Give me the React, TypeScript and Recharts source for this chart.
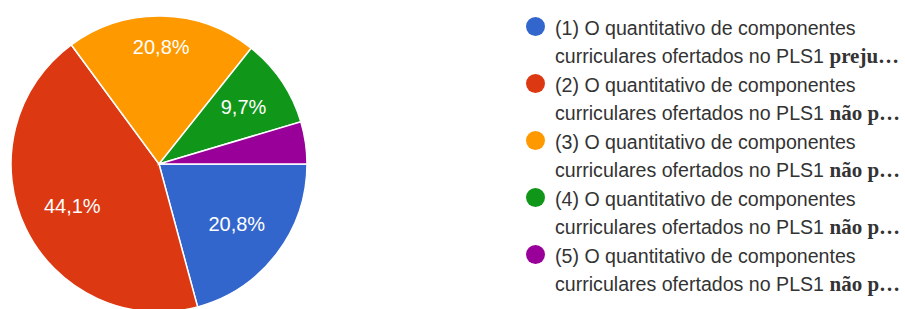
import { PieChart, Pie, Cell, Legend } from 'recharts';

const numbers = ['(1)', '(2)', '(3)', '(4)', '(5)'];
const values = [20.8, 44.1, 20.8, 9.7, 4.6];
const boldEnds = ['preju…', 'não p…', 'não p…', 'não p…', 'não p…'];
const COLORS = ['#3366cc', '#dc3912', '#ff9900', '#109618', '#990099'];

const firstLine = 'O quantitativo de componentes';
const secondLine = 'curriculares ofertados no PLS1 ';

const data = numbers.map((n, i) => ({
  name: `${n} ${firstLine}`,
  value: values[i],
  bold: boldEnds[i],
}));

const RAD = Math.PI / 180;
const SANS = '"Liberation Sans", Arial, sans-serif';
const LABEL_SIZE = 20;

// rough Arial advance widths, used to keep the label box inside the slice
const charW = (c: string) => (c === ',' ? 0.278 : c === '%' ? 0.889 : 0.556);

const renderLabel = (props: any) => {
  const { cx, cy, midAngle, outerRadius, value } = props;
  if (value < 5) return null;
  const text = `${value.toFixed(1).replace('.', ',')}%`;
  const halfW = (text.split('').reduce((s, c) => s + charW(c), 0) * LABEL_SIZE) / 2;
  const halfH = LABEL_SIZE * 0.375;
  const cos = Math.cos(-midAngle * RAD);
  const sin = Math.sin(-midAngle * RAD);
  const r = outerRadius * 0.845 - (halfW * Math.abs(cos) + halfH * Math.abs(sin));
  return (
    <text
      x={cx + r * cos}
      y={cy + r * sin}
      fill="#fff"
      textAnchor="middle"
      dominantBaseline="central"
      fontSize={LABEL_SIZE}
      fontFamily={SANS}
    >
      {text}
    </text>
  );
};

const renderLegend = () => (
  <div style={{ fontFamily: SANS, fontSize: 19.6, color: '#333' }}>
    {data.map((d, i) => (
      <div key={`leg-${i}`} style={{ display: 'flex', height: 57 }}>
        <div
          style={{
            width: 19,
            height: 19,
            borderRadius: '50%',
            background: COLORS[i],
            marginTop: 3,
            marginRight: 10,
            flex: 'none',
          }}
        />
        <div style={{ lineHeight: '28px', whiteSpace: 'nowrap' }}>
          <div>{d.name}</div>
          <div>
            {secondLine}
            <span style={{ fontFamily: '"Liberation Serif", serif', fontWeight: 'bold', fontSize: 21 }}>{d.bold}</span>
          </div>
        </div>
      </div>
    ))}
  </div>
);

export default function App() {
  return (
    <div style={{ position: 'absolute', left: 0, top: 0, width: 905, height: 309, background: '#fff' }}>
      <PieChart width={905} height={309} margin={{ top: 0, right: 0, bottom: 0, left: 0 }}>
        <Pie
          data={data}
          dataKey="value"
          nameKey="name"
          cx={159}
          cy={164}
          outerRadius={148}
          startAngle={0}
          endAngle={-360}
          stroke="#fff"
          strokeWidth={1.5}
          label={renderLabel}
          labelLine={false}
          isAnimationActive={false}
        >
          {data.map((entry, index) => (
            <Cell key={`slice-${index}`} fill={COLORS[index % COLORS.length]} />
          ))}
        </Pie>
        <Legend
          content={renderLegend}
          wrapperStyle={{ left: 526, top: 14, width: 379 }}
        />
      </PieChart>
    </div>
  );
}
